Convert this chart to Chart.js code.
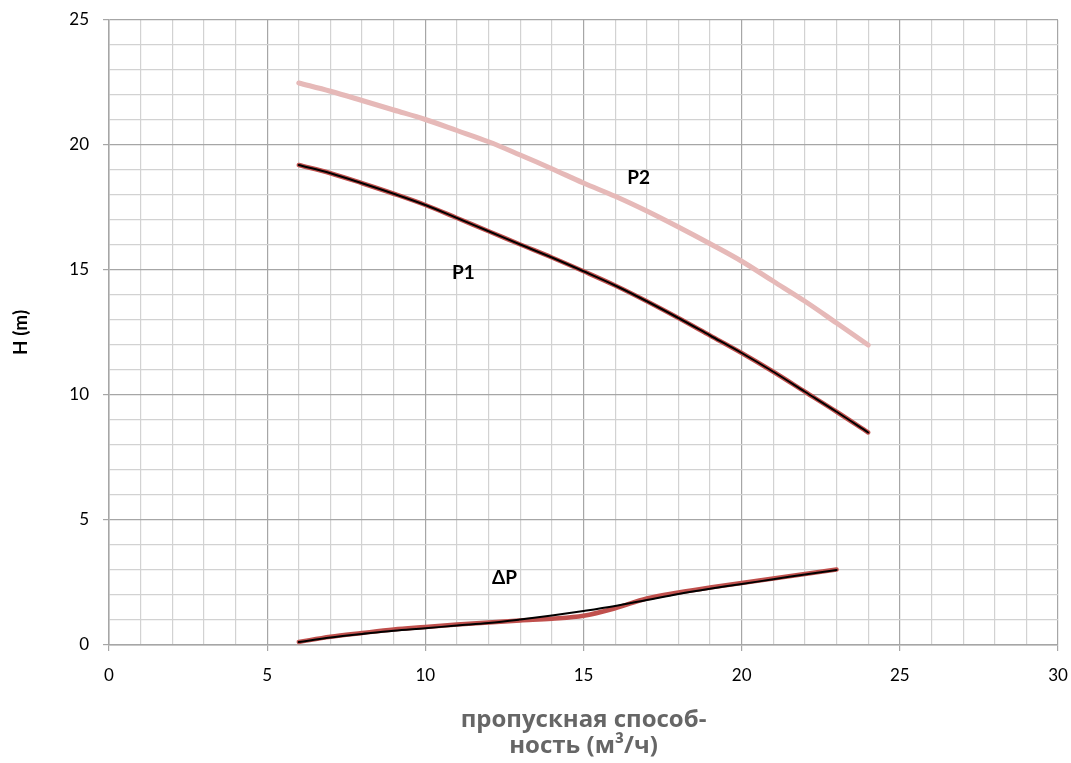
<!DOCTYPE html>
<html>
<head>
<meta charset="utf-8">
<script src="https://cdn.jsdelivr.net/npm/chart.js@4/dist/chart.umd.min.js"></script>
<style>
  html, body { margin: 0; padding: 0; background: #fff; }
  #wrap { width: 1071px; height: 763px; position: relative; }
</style>
</head>
<body>
<div id="wrap"><canvas id="c" width="1071" height="763"></canvas></div>
<script>
// ---- data ----
const flowP = [6, 7, 8, 9, 10, 11, 12, 13, 14, 15, 16, 17, 18, 19, 20, 21, 22, 23, 24];
const p1 = [19.2, 18.87, 18.47, 18.05, 17.6, 17.08, 16.55, 16.02, 15.5, 14.95, 14.38, 13.75, 13.08, 12.38, 11.68, 10.93, 10.13, 9.33, 8.5];
const p2 = [22.48, 22.15, 21.78, 21.4, 21.02, 20.58, 20.13, 19.6, 19.05, 18.48, 17.95, 17.36, 16.72, 16.05, 15.35, 14.55, 13.75, 12.88, 12.0];
const flowDP = [6, 7, 8, 9, 10, 11, 12, 13, 14, 15, 16, 17, 18, 19, 20, 21, 22, 23];
const dpRed = [0.12, 0.33, 0.48, 0.62, 0.72, 0.82, 0.9, 0.98, 1.05, 1.17, 1.47, 1.86, 2.1, 2.3, 2.48, 2.66, 2.84, 3.02];
const dpBlack = [0.12, 0.3, 0.44, 0.57, 0.67, 0.78, 0.88, 1.02, 1.18, 1.36, 1.56, 1.8, 2.04, 2.25, 2.44, 2.63, 2.82, 3.0];
const xTickLabels = [0, 5, 10, 15, 20, 25, 30];
const yTickLabels = [0, 5, 10, 15, 20, 25];
const seriesLabels = [
  { text: 'P2', x: 16.74, y: 18.68 },
  { text: 'P1', x: 11.2, y: 14.88 },
  { text: 'ΔP', x: 12.5, y: 2.68 }
];
const xTitle = ['пропускная способ-', 'ность (м³/ч)'];
const yTitle = 'H (m)';

const pts = (xs, ys) => xs.map((x, i) => ({ x: x, y: ys[i] }));

const MAJOR = '#a6a6a6';
const MINOR = '#d2d2d2';

const labelPlugin = {
  id: 'seriesLabels',
  afterDatasetsDraw(chart) {
    const { ctx, scales: { x, y } } = chart;
    ctx.save();
    ctx.font = 'bold 19px Lato';
    ctx.fillStyle = '#000';
    ctx.textAlign = 'center';
    ctx.textBaseline = 'middle';
    seriesLabels.forEach(l => ctx.fillText(l.text, x.getPixelForValue(l.x), y.getPixelForValue(l.y)));
    ctx.restore();
  }
};

new Chart(document.getElementById('c'), {
  type: 'line',
  data: {
    datasets: [
      { label: 'P2', data: pts(flowP, p2), borderColor: '#e6b9b8', borderWidth: 5, order: 3 },
      { label: 'P1 red', data: pts(flowP, p1), borderColor: '#c0504d', borderWidth: 4.5, order: 2 },
      { label: 'ΔP red', data: pts(flowDP, dpRed), borderColor: '#c0504d', borderWidth: 4.5, order: 2 },
      { label: 'P1', data: pts(flowP, p1), borderColor: '#000000', borderWidth: 2, order: 1 },
      { label: 'ΔP', data: pts(flowDP, dpBlack), borderColor: '#000000', borderWidth: 2, order: 1 }
    ]
  },
  options: {
    responsive: false,
    animation: false,
    layout: { padding: { top: 20, right: 13, left: 0, bottom: 0 } },
    elements: {
      point: { radius: 0, hoverRadius: 0 },
      line: { tension: 0.35, fill: false, borderCapStyle: 'round', borderJoinStyle: 'round' }
    },
    plugins: { legend: { display: false }, tooltip: { enabled: false } },
    scales: {
      x: {
        type: 'linear', min: 0, max: 30,
        afterFit(s) { s.height = 118; s.paddingLeft = 0; s.paddingRight = 0; },
        ticks: {
          stepSize: 1, autoSkip: false, maxRotation: 0,
          color: '#000', font: { family: 'Lato', size: 17 }, padding: 14,
          callback: v => xTickLabels.includes(v) ? String(v) : ''
        },
        grid: {
          color: c => (c.tick && c.tick.value % 5 === 0) ? MAJOR : MINOR,
          tickColor: c => (c.tick && c.tick.value % 5 === 0) ? MAJOR : 'transparent',
          lineWidth: 1.2, tickLength: 6
        },
        border: { color: MAJOR, width: 1.5 },
        title: {
          display: true, text: xTitle, color: '#666',
          font: { family: 'Open Sans', size: 24, weight: 'bold', lineHeight: 1.08 },
          padding: { top: 0, bottom: 4 }
        }
      },
      y: {
        type: 'linear', min: 0, max: 25,
        afterFit(s) { s.width = 109; s.paddingTop = 0; s.paddingBottom = 0; },
        ticks: {
          stepSize: 1, autoSkip: false,
          color: '#000', font: { family: 'Lato', size: 17 }, padding: 14,
          callback: v => yTickLabels.includes(v) ? String(v) : ''
        },
        grid: {
          color: c => (c.tick && c.tick.value % 5 === 0) ? MAJOR : MINOR,
          tickColor: c => (c.tick && c.tick.value % 5 === 0) ? MAJOR : 'transparent',
          lineWidth: 1.2, tickLength: 6
        },
        border: { color: MAJOR, width: 1.5 },
        title: {
          display: true, text: yTitle, color: '#000',
          font: { family: 'Lato', size: 19, weight: 'bold', lineHeight: 1.2 },
          padding: { top: 9, bottom: 0 }
        }
      }
    }
  },
  plugins: [labelPlugin]
});
</script>
</body>
</html>
